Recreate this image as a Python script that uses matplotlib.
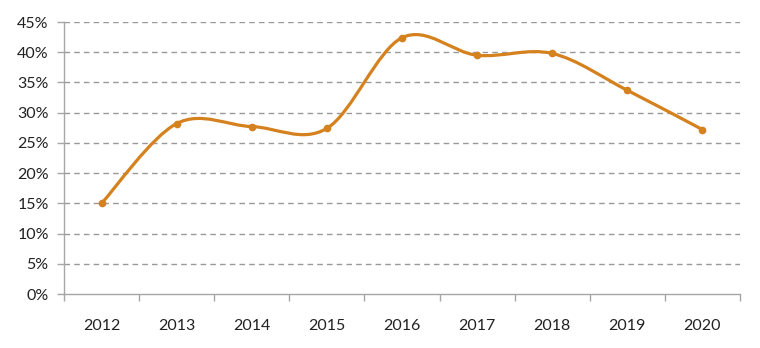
import matplotlib
matplotlib.use("Agg")
import matplotlib.pyplot as plt
from matplotlib.path import Path
from matplotlib.patches import PathPatch
from matplotlib.ticker import FuncFormatter, MultipleLocator
import numpy as np

years = ["2012", "2013", "2014", "2015", "2016", "2017", "2018", "2019", "2020"]
values = [15.0, 28.2, 27.7, 27.4, 42.4, 39.5, 39.8, 33.7, 27.2]

color = "#D4811E"
plt.rcParams['font.family'] = ['Lato', 'DejaVu Sans']

fig = plt.figure(figsize=(7.6, 3.48), dpi=100)
ax = fig.add_axes([64/760, 1-294/348, (740-64)/760, (294-22)/348])

x = np.arange(len(values), dtype=float)
y = np.array(values, dtype=float)

# smoothed line (Excel-like Catmull-Rom Bezier)
verts = [(x[0], y[0])]
codes = [Path.MOVETO]
n = len(x)
t = 1/6
for i in range(n-1):
    p0 = (x[i-1], y[i-1]) if i > 0 else (x[i], y[i])
    p1 = (x[i], y[i])
    p2 = (x[i+1], y[i+1])
    p3 = (x[i+2], y[i+2]) if i+2 < n else (x[i+1], y[i+1])
    c1 = (p1[0] + (p2[0]-p0[0])*t, p1[1] + (p2[1]-p0[1])*t)
    c2 = (p2[0] - (p3[0]-p1[0])*t, p2[1] - (p3[1]-p1[1])*t)
    verts += [c1, c2, p2]
    codes += [Path.CURVE4]*3
ax.add_patch(PathPatch(Path(verts, codes), facecolor='none', edgecolor=color,
                       lw=2.3, capstyle='round', joinstyle='round', zorder=3))
ax.plot(x, y, 'o', color=color, ms=4.5, zorder=4)

ax.set_xlim(-0.5, 8.5)
ax.set_ylim(0, 45)
ax.yaxis.set_major_locator(MultipleLocator(5))
ax.yaxis.set_major_formatter(FuncFormatter(lambda v, p: f"{int(round(v))}%"))
ax.set_xticks(x)
ax.set_xticklabels(years)
ax.set_xticks(np.arange(-0.5, 9, 1), minor=True)

for yy in range(5, 50, 5):
    ax.axhline(yy, color='#999999', lw=1.0, ls=(0, (4, 3)), zorder=1)

for s in ['top', 'right']:
    ax.spines[s].set_visible(False)
for s in ['left', 'bottom']:
    ax.spines[s].set_color('#A6A6A6')
    ax.spines[s].set_linewidth(1.0)

ax.tick_params(axis='y', length=5, width=1, color='#A6A6A6', pad=6,
               labelsize=11.5, labelcolor='#222222', direction='out')
ax.tick_params(axis='x', which='major', length=0, pad=18, labelsize=11.5,
               labelcolor='#222222')
ax.tick_params(axis='x', which='minor', length=5, width=1, color='#A6A6A6',
               direction='out')

fig.savefig("out.png", dpi=100)
